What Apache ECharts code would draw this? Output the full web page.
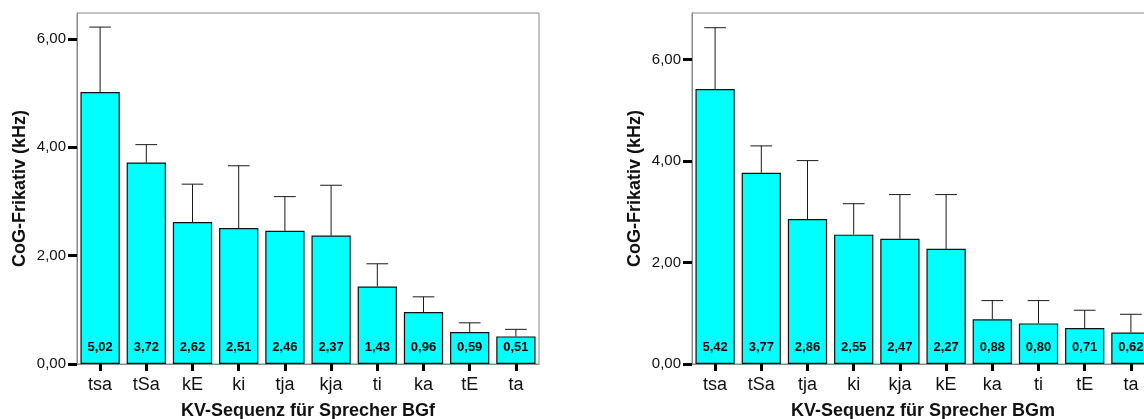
<!DOCTYPE html>
<html>
<head>
<meta charset="utf-8">
<script src="https://cdn.jsdelivr.net/npm/echarts@6/dist/echarts.min.js"></script>
<style>
  html, body { margin: 0; padding: 0; background: #ffffff; }
  #chart { width: 1144px; height: 419px; }
</style>
</head>
<body>
<div id="chart"></div>
<script>
// Speaker BGf: mean CoG of the fricative per CV sequence, with upper error bar end
const categoriesBGf = ['tsa', 'tSa', 'kE', 'ki', 'tja', 'kja', 'ti', 'ka', 'tE', 'ta'];
const meanBGf = [5.02, 3.72, 2.62, 2.51, 2.46, 2.37, 1.43, 0.96, 0.59, 0.51];
const upperBGf = [6.22, 4.05, 3.32, 3.66, 3.09, 3.30, 1.85, 1.24, 0.76, 0.64];

// Speaker BGm
const categoriesBGm = ['tsa', 'tSa', 'tja', 'ki', 'kja', 'kE', 'ka', 'ti', 'tE', 'ta'];
const meanBGm = [5.42, 3.77, 2.86, 2.55, 2.47, 2.27, 0.88, 0.80, 0.71, 0.62];
const upperBGm = [6.63, 4.30, 4.01, 3.16, 3.34, 3.34, 1.25, 1.25, 1.06, 0.98];

// Value axis ticks and extents
const yTicks = [0, 2, 4, 6];
const yMaxBGf = 6.48;
const yMaxBGm = 6.92;

const FONT = '"Liberation Sans", Arial, sans-serif';
const fmt = v => Number(v).toFixed(2).replace('.', ',');

function errorBarRender(params, api) {
  const x = api.value(0);
  const p0 = api.coord([x, api.value(1)]);
  const p1 = api.coord([x, api.value(2)]);
  const half = api.size([1, 0])[0] * 0.235;
  const style = { stroke: '#1a1a1a', lineWidth: 1 };
  return {
    type: 'group',
    children: [
      { type: 'line', shape: { x1: p0[0], y1: p0[1], x2: p1[0], y2: p1[1] }, style },
      { type: 'line', shape: { x1: p1[0] - half, y1: p1[1], x2: p1[0] + half, y2: p1[1] }, style }
    ]
  };
}

function grid(left) {
  return {
    left: left, top: 13, width: 462, height: 351,
    outerBoundsMode: 'none',
    show: true, borderColor: '#8a8a8a', borderWidth: 1, backgroundColor: 'transparent'
  };
}

function xAxis(idx, cats, speaker) {
  return {
    type: 'category', gridIndex: idx, data: cats,
    axisLine: { show: true, lineStyle: { color: '#8a8a8a', width: 1 } },
    axisTick: { show: true, alignWithLabel: true, length: 7, lineStyle: { color: '#000', width: 3 } },
    axisLabel: { fontSize: 18, color: '#111', margin: 12, fontFamily: FONT },
    splitLine: { show: false },
    name: 'KV-Sequenz für Sprecher ' + speaker,
    nameLocation: 'middle', nameGap: 38,
    nameTextStyle: { fontSize: 18, fontWeight: 'bold', color: '#111', fontFamily: FONT }
  };
}

function yAxis(idx, max) {
  return {
    type: 'value', gridIndex: idx, min: 0, max: max, interval: 2,
    axisLine: { show: true, lineStyle: { color: '#8a8a8a', width: 1 } },
    axisTick: { show: true, length: 9, lineStyle: { color: '#000', width: 3 }, customValues: yTicks },
    axisLabel: { fontSize: 15, color: '#111', margin: 11, fontFamily: FONT,
                 customValues: yTicks, formatter: fmt },
    splitLine: { show: false },
    name: 'CoG-Frikativ (kHz)',
    nameLocation: 'middle', nameGap: 48, nameRotate: 90,
    nameTextStyle: { fontSize: 18, fontWeight: 'bold', color: '#111', fontFamily: FONT }
  };
}

function barSeries(idx, values) {
  return {
    type: 'bar', xAxisIndex: idx, yAxisIndex: idx, data: values,
    barCategoryGap: '15%',
    itemStyle: { color: '#00ffff', borderColor: '#111', borderWidth: 1.2 },
    label: {
      show: true, position: 'insideBottom', distance: 10,
      fontSize: 13, fontWeight: 'bold', color: '#000', fontFamily: FONT,
      formatter: p => fmt(p.value)
    },
    z: 2, animation: false
  };
}

function errorSeries(idx, means, uppers) {
  return {
    type: 'custom', xAxisIndex: idx, yAxisIndex: idx,
    data: means.map((m, i) => [i, m, uppers[i]]),
    encode: { x: 0, y: [1, 2] },
    renderItem: errorBarRender, z: 3, animation: false, silent: true
  };
}

const chart = echarts.init(document.getElementById('chart'), null, { renderer: 'canvas' });
chart.setOption({
  backgroundColor: '#ffffff',
  animation: false,
  grid: [grid(77), grid(692)],
  xAxis: [xAxis(0, categoriesBGf, 'BGf'), xAxis(1, categoriesBGm, 'BGm')],
  yAxis: [yAxis(0, yMaxBGf), yAxis(1, yMaxBGm)],
  series: [
    barSeries(0, meanBGf), errorSeries(0, meanBGf, upperBGf),
    barSeries(1, meanBGm), errorSeries(1, meanBGm, upperBGm)
  ]
});
</script>
</body>
</html>
